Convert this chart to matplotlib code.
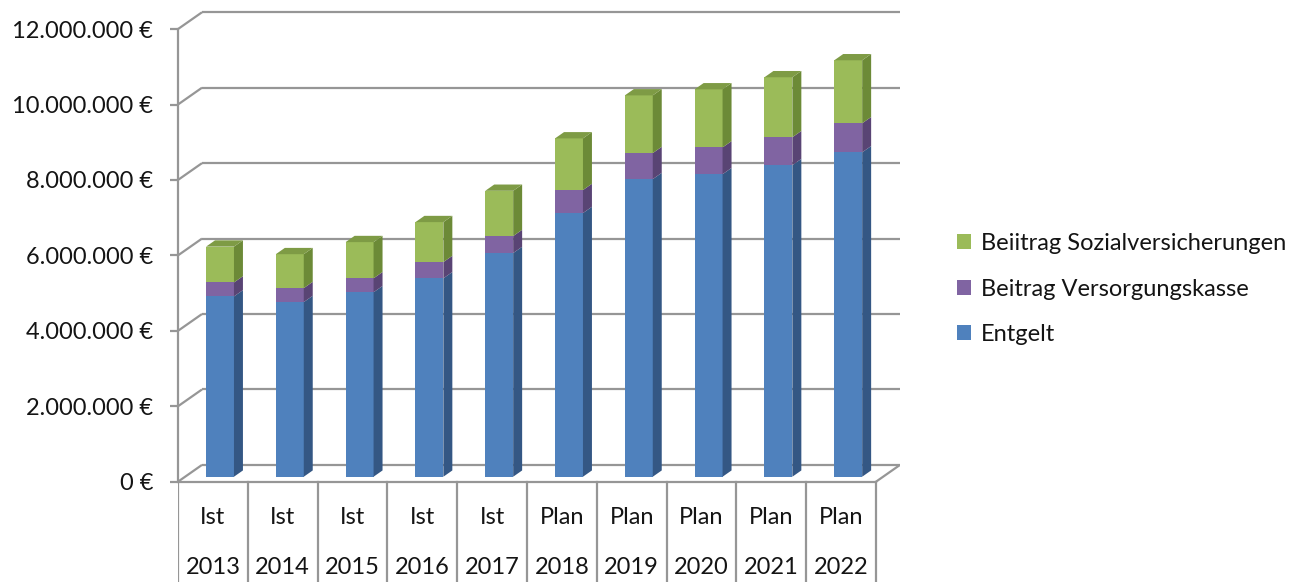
import matplotlib
matplotlib.use("Agg")
import matplotlib.pyplot as plt
from matplotlib.patches import Polygon, Patch
from matplotlib.transforms import Affine2D
import numpy as np

# ---- data -----------------------------------------------------------------
status = ["Ist", "Ist", "Ist", "Ist", "Ist", "Plan", "Plan", "Plan", "Plan", "Plan"]
years = ["2013", "2014", "2015", "2016", "2017", "2018", "2019", "2020", "2021", "2022"]
entgelt = [4.78e6, 4.63e6, 4.89e6, 5.26e6, 5.93e6, 6.99e6, 7.89e6, 8.02e6, 8.26e6, 8.60e6]
versorgungskasse = [0.37e6, 0.37e6, 0.37e6, 0.43e6, 0.45e6, 0.61e6, 0.69e6, 0.71e6, 0.74e6, 0.77e6]
sozialversicherung = [0.95e6, 0.90e6, 0.96e6, 1.06e6, 1.20e6, 1.37e6, 1.53e6, 1.54e6, 1.59e6, 1.67e6]
series_labels = ["Entgelt", "Beitrag Versorgungskasse", "Beiitrag Sozialversicherungen"]
y_ticks = [0, 2e6, 4e6, 6e6, 8e6, 10e6, 12e6]

# ---- style ----------------------------------------------------------------
plt.rcParams["font.family"] = ["Lato", "DejaVu Sans"]
FS = 17
TXT = "#141414"
GRID = "#969696"
LW = 1.6
front_cols = ["#4F81BD", "#8064A2", "#9BBB59"]
side_cols = ["#345784", "#594474", "#6C8A37"]
top_col = "#7E9B45"

W, H, DPI = 1314, 582, 100
cat_px = 69.8            # pixels per category
val_px = 37.72 / 1e6     # pixels per euro
x0_px, y0_px = 178, 481.7
depth_dx = 24 / cat_px       # oblique offset of the back wall (categories)
depth_dy = 16.8 / val_px     # oblique offset of the back wall (euro)

fig = plt.figure(figsize=(W / DPI, H / DPI), dpi=DPI)
ax_w_px = (10 + depth_dx) * cat_px
ax = fig.add_axes([x0_px / W, 0, ax_w_px / W, 1])
ax.set_xlim(0, 10 + depth_dx)
ax.set_ylim(-(H - y0_px) / val_px, y0_px / val_px)
ax.patch.set_visible(False)
for s in ["top", "right", "bottom"]:
    ax.spines[s].set_visible(False)
ax.spines["left"].set_bounds(0, y_ticks[-1])
ax.spines["left"].set_color(GRID)
ax.spines["left"].set_linewidth(LW)
ax.set_xticks([])


def euro(v):
    return f"{int(round(v)):,}".replace(",", ".") + "\u00a0€"


ax.set_yticks(y_ticks)
ax.set_yticklabels([euro(v) for v in y_ticks], fontsize=FS, color=TXT)
ax.tick_params(axis="y", length=5.8, width=LW, color=GRID, pad=12)

line_kw = dict(color=GRID, lw=LW, solid_capstyle="butt", zorder=1)

# back wall gridlines with their diagonal connectors
for v in y_ticks:
    ax.plot([0, depth_dx], [v, v + depth_dy], **line_kw)
    ax.plot([depth_dx, 10 + depth_dx], [v + depth_dy, v + depth_dy], **line_kw)

# floor
ax.plot([10, 10 + depth_dx], [0, depth_dy], **line_kw)
ax.plot([0, 10], [0, 0], color=GRID, lw=LW, zorder=5)

# category table below the floor
ybot = ax.get_ylim()[0]
for i in range(11):
    ax.plot([i, i], [0, ybot], color=GRID, lw=LW, zorder=5)
x = np.arange(10) + 0.5
for xi, s, yr in zip(x, status, years):
    ax.text(xi, -(518 - y0_px) / val_px, s, ha="center", va="center", fontsize=FS, color=TXT)
    ax.text(xi, -(567 - y0_px) / val_px, yr, ha="center", va="center", fontsize=FS, color=TXT)

# stacked 3D-style columns
f0, f1 = 0.296, 0.67
bar_w = 0.40
front_tr = Affine2D().translate(f0 * depth_dx, f0 * depth_dy) + ax.transData
ddx = (f1 - f0) * depth_dx
ddy = (f1 - f0) * depth_dy

stacks = [entgelt, versorgungskasse, sozialversicherung]
bottom = np.zeros(10)
for k, vals in enumerate(stacks):
    vals = np.asarray(vals)
    ax.bar(x, vals, bottom=bottom, width=bar_w, color=front_cols[k],
           transform=front_tr, zorder=3, linewidth=0)
    for xi, b, h in zip(x, bottom, vals):
        xr = xi + bar_w / 2
        side = Polygon([(xr, b), (xr + ddx, b + ddy), (xr + ddx, b + h + ddy), (xr, b + h)],
                       closed=True, facecolor=side_cols[k], edgecolor="none",
                       transform=front_tr, zorder=3)
        ax.add_patch(side)
        if k == len(stacks) - 1:
            xl = xi - bar_w / 2
            t = b + h
            top = Polygon([(xl, t), (xr, t), (xr + ddx, t + ddy), (xl + ddx, t + ddy)],
                          closed=True, facecolor=top_col, edgecolor="none",
                          transform=front_tr, zorder=3)
            ax.add_patch(top)
    bottom = bottom + vals

# legend
handles = [Patch(facecolor=front_cols[k], edgecolor="none") for k in (2, 1, 0)]
labels = [series_labels[k] for k in (2, 1, 0)]
fig.legend(handles, labels, loc="center left", bbox_to_anchor=(957 / W, 1 - 289 / H),
           frameon=False, fontsize=FS, labelcolor=TXT, borderpad=0, borderaxespad=0,
           handlelength=0.6, handleheight=0.6, handletextpad=0.4, labelspacing=1.05)

fig.savefig("out.png", dpi=DPI)
